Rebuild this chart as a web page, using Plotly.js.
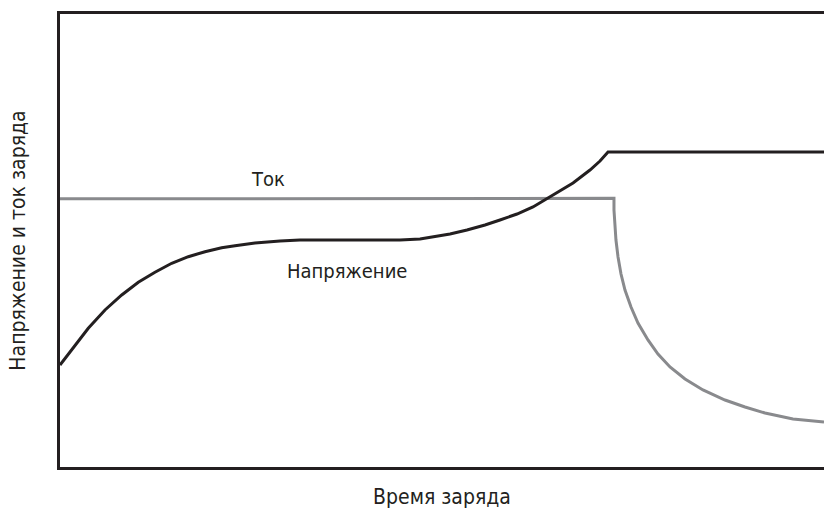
<!DOCTYPE html>
<html>
<head>
<meta charset="utf-8">
<script src="https://cdn.plot.ly/plotly-3.0.1.min.js"></script>
<style>html,body{margin:0;padding:0;background:#fff;overflow:hidden}</style>
</head>
<body>
<div id="chart" style="width:824px;height:515px"></div>
<script>
// Charge time (0–100, relative units)
const voltageTime = [0, 1.96, 3.70, 5.89, 8.08, 10.25, 12.43, 14.62, 16.79, 18.98, 21.16, 22.91, 25.52, 28.80, 31.41, 37.96, 44.50, 47.12, 48.82, 51.05, 53.27, 55.63, 57.59, 59.82, 61.91, 64.14, 65.71, 67.15, 69.37, 70.68, 71.73, 100];
// Voltage (relative units)
const voltageValues = [22.52, 26.93, 30.62, 34.66, 37.97, 40.77, 42.98, 44.97, 46.42, 47.53, 48.41, 48.85, 49.45, 49.89, 50.11, 50.11, 50.11, 50.33, 50.77, 51.43, 52.32, 53.42, 54.53, 55.85, 57.40, 59.60, 61.15, 62.69, 65.56, 67.55, 69.54, 69.54];
// Charge current (relative units)
const currentTime = [0, 72.51, 72.51, 72.64, 72.77, 73.04, 73.43, 73.95, 74.74, 75.65, 76.96, 78.27, 79.84, 81.81, 84.16, 87.04, 89.66, 92.28, 95.94, 100];
const currentValues = [59.2, 59.3, 56.73, 53.86, 50.11, 46.36, 42.60, 39.07, 35.32, 31.79, 28.04, 24.94, 22.08, 19.43, 17.00, 14.79, 13.25, 11.92, 10.60, 9.93];

const labelTok = "Ток";
const labelVoltage = "Напряжение";
const xTitle = "Время заряда";
const yTitle = "Напряжение и ток заряда";

const FONT = "Liberation Sans Narrow, DejaVu Sans Condensed, Arial Narrow, sans-serif";
const BLACK = "#231f20";
const GREY = "#898a8d";

const traces = [
  {x: currentTime, y: currentValues, mode: "lines", line: {color: GREY, width: 3, shape: "linear"}, hoverinfo: "skip", name: labelTok},
  {x: voltageTime, y: voltageValues, mode: "lines", line: {color: BLACK, width: 3, shape: "linear"}, hoverinfo: "skip", name: labelVoltage}
];

const layout = {
  width: 824, height: 515,
  margin: {l: 60, r: 0, t: 14, b: 48},
  paper_bgcolor: "#fff", plot_bgcolor: "#fff",
  showlegend: false,
  font: {family: FONT, color: BLACK, size: 20},
  xaxis: {range: [0, 100], showgrid: false, zeroline: false, showticklabels: false, ticks: "",
          showline: true, mirror: true, linecolor: BLACK, linewidth: 3,
          title: {text: xTitle, font: {family: FONT, size: 21, color: BLACK}, standoff: 21}},
  yaxis: {range: [0, 100], showgrid: false, zeroline: false, showticklabels: false, ticks: "",
          showline: true, mirror: false, linecolor: BLACK, linewidth: 3,
          title: {text: yTitle, font: {family: FONT, size: 21, color: BLACK}, standoff: 26}},
  annotations: [
    {x: 27.2, y: 63.6, xref: "x", yref: "y", text: labelTok, showarrow: false, font: {family: FONT, size: 20, color: BLACK}},
    {x: 37.6, y: 43.3, xref: "x", yref: "y", text: labelVoltage, showarrow: false, font: {family: FONT, size: 20, color: BLACK}}
  ]
};

Plotly.newPlot("chart", traces, layout, {staticPlot: true, displayModeBar: false});
</script>
</body>
</html>
